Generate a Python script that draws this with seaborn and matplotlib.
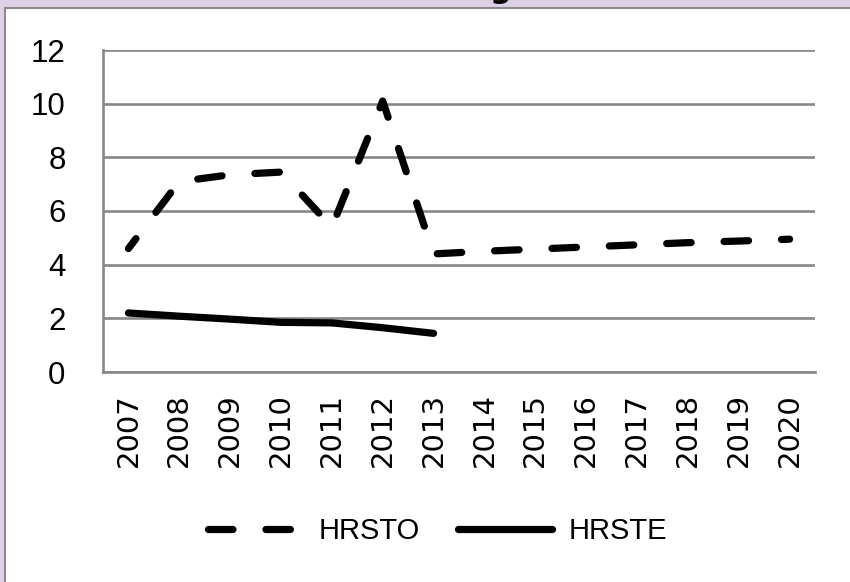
import matplotlib
matplotlib.use("Agg")
import matplotlib.pyplot as plt
import matplotlib.patches as mpatches
from matplotlib.lines import Line2D
import seaborn as sns
import pandas as pd
import numpy as np

years = ["2007", "2008", "2009", "2010", "2011", "2012", "2013",
         "2014", "2015", "2016", "2017", "2018", "2019", "2020"]
hrsto = [4.6, 7.1, 7.35, 7.45, 5.4, 10.1, 4.4, 4.5, 4.58, 4.66, 4.74, 4.82, 4.88, 4.95]
hrste = [2.2, 2.08, 1.97, 1.85, 1.83, 1.65, 1.44]
series_names = ["HRSTO", "HRSTE"]
yticks = [0, 2, 4, 6, 8, 10, 12]

sns.set_theme(style="white")
plt.rcParams["lines.dash_capstyle"] = "round"
plt.rcParams["lines.solid_capstyle"] = "round"
plt.rcParams["lines.dash_joinstyle"] = "round"
plt.rcParams["lines.solid_joinstyle"] = "round"
plt.rcParams["text.color"] = "black"
NARROW = ["Liberation Sans Narrow", "Liberation Sans", "DejaVu Sans"]

rows = []
for i, y in enumerate(years):
    rows.append({"idx": i, "year": y, "value": hrsto[i], "series": "HRSTO"})
for i, v in enumerate(hrste):
    rows.append({"idx": i, "year": years[i], "value": v, "series": "HRSTE"})
df = pd.DataFrame(rows)

W, H = 850, 582
fig = plt.figure(figsize=(8.5, 5.82), dpi=100)
fig.patch.set_facecolor("#ddd1e6")

# white chart area with grey border
box = mpatches.Rectangle((5 / W, -0.05), 1.1, (582 - 8) / H + 0.05,
                         transform=fig.transFigure, facecolor="white",
                         edgecolor="#8a8a8a", linewidth=1.5, zorder=-10)
fig.patches.append(box)

# cut-off title descender
fig.text(501 / W, 1 + 1.5 / H, "g", ha="center", va="baseline",
         fontsize=22, fontweight="bold", color="black", zorder=5)

ax = fig.add_axes([103 / W, 1 - 372 / H, (815 - 103) / W, (372 - 50) / H])
ax.set_facecolor("none")
ax.set_zorder(2)

LW = 5.2
DASH = (3.39, 4.56)
grey = "#878787"
sns.lineplot(data=df, x="idx", y="value", style="series",
             style_order=series_names,
             dashes={"HRSTO": DASH, "HRSTE": ""},
             color="black", linewidth=LW, ax=ax, legend=False,
             estimator=None, sort=False)
for ln in ax.lines:
    if len(ln.get_xdata()) == len(years):
        ln.set_linestyle((1.66, DASH))

ax.set_xlim(-0.5, len(years) - 0.5)
ax.set_ylim(0, 12)
ax.set_yticks(yticks)
ax.set_yticklabels([str(t) for t in yticks], fontsize=22.5, family=NARROW)
ax.set_xticks(np.arange(len(years)))
ax.set_xticklabels(years, rotation=90, fontsize=21, family="DejaVu Sans")
ax.set_xticks(np.arange(len(years) + 1) - 0.5, minor=True)
ax.tick_params(axis="x", which="major", length=0, pad=15, labelcolor="black")
ax.tick_params(axis="x", which="minor", length=6.5, width=1.8, color=grey,
               direction="out")
ax.tick_params(axis="y", which="major", length=8, width=1.8, color=grey,
               pad=19, direction="out", labelcolor="black")

ax.grid(axis="y", color=grey, linewidth=1.9)
ax.grid(axis="x", visible=False)
ax.set_axisbelow(True)
for s in ["top", "right"]:
    ax.spines[s].set_visible(False)
for s in ["left", "bottom"]:
    ax.spines[s].set_color(grey)
    ax.spines[s].set_linewidth(1.9)
ax.set_xlabel("")
ax.set_ylabel("")

handles = [Line2D([], [], color="black", linewidth=LW, linestyle=(0, DASH)),
           Line2D([], [], color="black", linewidth=LW)]
leg = fig.legend(handles, series_names, loc="center", ncol=2, frameon=False,
                 bbox_to_anchor=(438 / W, 1 - 531 / H),
                 prop={"family": NARROW, "size": 21},
                 handlelength=3.2, handletextpad=0.6, columnspacing=1.3)
for t in leg.get_texts():
    t.set_color("black")

fig.savefig("out.png", dpi=100, facecolor=fig.get_facecolor())
